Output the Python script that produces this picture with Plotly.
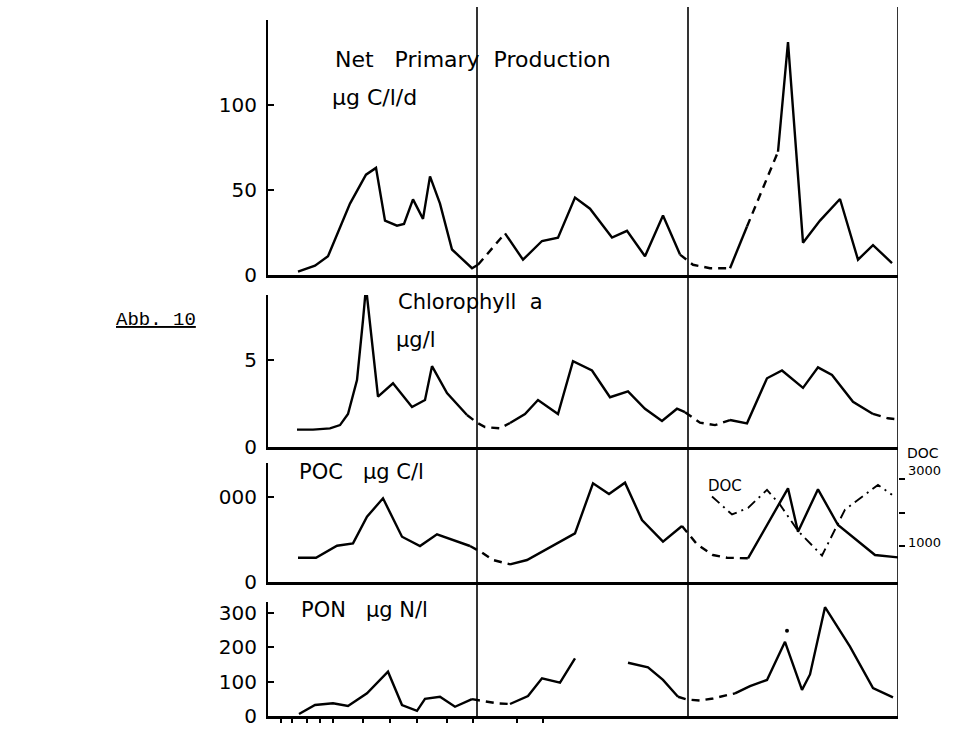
import plotly.graph_objects as go

# ---------------- data (x = station index along the three cruises) ----------------
separators_x = [20.9, 42.0, 63.0]

# Net primary production, ug C/l/d
npp_sol1_x = [3.0, 4.7, 6.0, 8.2, 9.8, 10.8, 11.7, 12.9, 13.6, 14.5, 15.5, 16.2, 17.2, 18.4, 20.4, 21.0]
npp_sol1_y = [2, 5.5, 11, 42, 59, 63, 32, 29, 30, 44.5, 33, 58, 42, 15, 4, 6]
npp_gap1_x = [21.0, 23.7]
npp_gap1_y = [6, 24.5]
npp_sol2_x = [23.7, 25.5, 27.4, 29.0, 30.7, 32.2, 34.4, 35.9, 37.7, 39.5, 41.2]
npp_sol2_y = [24.5, 9, 20, 22, 45.5, 39, 22, 26, 11, 35, 12]
npp_gap2_x = [41.2, 42.5, 44.2, 46.2]
npp_gap2_y = [12, 6, 4, 4]
npp_sol3_x = [46.2, 47.9]
npp_sol3_y = [4, 28.5]
npp_gap3_x = [47.9, 51.0]
npp_gap3_y = [28.5, 72.5]
npp_sol4_x = [51.0, 52.0, 53.5, 55.2, 57.2, 59.0, 60.5, 62.4]
npp_sol4_y = [72.5, 137, 19, 32, 44.7, 9, 17.6, 7]

# Chlorophyll a, ug/l
chl_sol1_x = [2.9, 4.5, 6.2, 7.2, 8.0, 8.9, 9.5, 9.8, 11.0, 12.5, 14.4, 15.7, 16.4, 17.9, 19.9]
chl_sol1_y = [1.0, 1.0, 1.07, 1.26, 1.9, 3.85, 7.3, 9.2, 2.9, 3.66, 2.3, 2.7, 4.65, 3.1, 1.84]
chl_gap1_x = [19.9, 20.9, 21.7, 23.2, 24.2]
chl_gap1_y = [1.84, 1.4, 1.15, 1.07, 1.38]
chl_sol2_x = [24.2, 25.7, 27.0, 29.0, 30.5, 32.4, 34.2, 36.0, 37.7, 39.4, 40.9, 41.7]
chl_sol2_y = [1.38, 1.9, 2.7, 1.9, 4.94, 4.4, 2.86, 3.2, 2.2, 1.5, 2.2, 2.0]
chl_gap2_x = [41.7, 43.2, 44.7, 46.2]
chl_gap2_y = [2.0, 1.4, 1.26, 1.55]
chl_sol3_x = [46.2, 47.9, 49.9, 51.4, 53.5, 55.0, 56.4, 58.5, 60.5]
chl_sol3_y = [1.55, 1.36, 3.95, 4.4, 3.4, 4.58, 4.14, 2.6, 1.9]
chl_gap3_x = [60.5, 62.0, 62.8]
chl_gap3_y = [1.9, 1.65, 1.6]

# POC, ug C/l
poc_sol1_x = [3.0, 4.8, 6.9, 8.5, 9.9, 11.5, 13.4, 15.2, 16.9, 20.2]
poc_sol1_y = [572, 572, 854, 910, 1537, 1969, 1066, 847, 1122, 847]
poc_gap1_x = [20.2, 21.4, 22.5, 24.2]
poc_gap1_y = [847, 690, 517, 416]
poc_sol2_x = [24.2, 25.9, 30.7, 32.5, 34.1, 35.7, 37.4, 39.5, 41.4]
poc_sol2_y = [416, 517, 1145, 2322, 2070, 2337, 1459, 949, 1318]
poc_gap2_x = [41.4, 42.9, 44.5, 45.9, 48.0]
poc_gap2_y = [1318, 887, 635, 572, 557]
poc_sol3_x = [48.0, 52.0, 53.0, 55.0, 57.0, 60.7, 63.0]
poc_sol3_y = [557, 2204, 1184, 2181, 1341, 635, 580]

# DOC (right axis)
doc_x = [44.4, 46.4, 48.0, 49.9, 51.2, 53.0, 55.4, 56.7, 57.7, 61.0, 62.4]
doc_y = [2479, 1941, 2138, 2676, 2235, 1450, 715, 1500, 2088, 2823, 2529]

# PON, ug N/l
pon_sol1_x = [3.1, 4.7, 6.5, 8.0, 9.9, 12.0, 13.4, 14.9, 15.7, 17.2, 18.7, 20.4]
pon_sol1_y = [6, 32, 37, 29, 66, 129, 32, 15, 50, 56, 27, 49]
pon_gap1_x = [20.4, 21.4, 22.9, 24.2]
pon_gap1_y = [49, 45, 37, 35]
pon_sol2_x = [24.2, 26.0, 27.4, 29.2, 30.7]
pon_sol2_y = [35, 58, 110, 97, 168]
pon_sol3_x = [36.0, 38.0, 39.5, 41.0]
pon_sol3_y = [155, 142, 105, 56]
pon_gap2_x = [41.0, 41.9, 43.2, 44.5, 45.9, 46.7]
pon_gap2_y = [56, 48, 45, 51, 61, 66]
pon_sol4_x = [46.7, 48.2, 49.9, 51.7, 53.4, 54.2, 55.7, 58.2, 60.5, 62.5]
pon_sol4_y = [66, 87, 105, 216, 76, 121, 317, 202, 81, 54]
pon_dot_x = [51.9]
pon_dot_y = [248]

bottom_ticks_x = [1.3, 2.4, 3.9, 5.2, 6.5, 9.5, 12.2, 14.9, 17.9, 20.5, 24.9, 27.5]

# ---------------- figure ----------------
# the page body margin is removed (post_script), so the figure fills the window
W, H = 953, 729
FONT = "DejaVu Sans"
LW = 2.4
DASH = "8px,6px"

def px_x(p):
    return p / W

def px_y(p):
    return 1 - p / H

fig = go.Figure()

def add(xs, ys, ax, style="solid", width=LW):
    dash = {"solid": "solid", "dash": DASH, "dashdot": "10px,5px,2px,5px"}[style]
    fig.add_trace(go.Scatter(x=xs, y=ys, mode="lines", xaxis="x" + ax[0], yaxis="y" + ax[1],
                             line=dict(color="black", width=width, dash=dash),
                             showlegend=False, hoverinfo="skip", cliponaxis=False))

add(npp_sol1_x, npp_sol1_y, ("", ""))
add(npp_gap1_x, npp_gap1_y, ("", ""), "dash")
add(npp_sol2_x, npp_sol2_y, ("", ""))
add(npp_gap2_x, npp_gap2_y, ("", ""), "dash")
add(npp_sol3_x, npp_sol3_y, ("", ""))
add(npp_gap3_x, npp_gap3_y, ("", ""), "dash")
add(npp_sol4_x, npp_sol4_y, ("", ""))

add(chl_sol1_x, chl_sol1_y, ("2", "2"))
add(chl_gap1_x, chl_gap1_y, ("2", "2"), "dash")
add(chl_sol2_x, chl_sol2_y, ("2", "2"))
add(chl_gap2_x, chl_gap2_y, ("2", "2"), "dash")
add(chl_sol3_x, chl_sol3_y, ("2", "2"))
add(chl_gap3_x, chl_gap3_y, ("2", "2"), "dash")

add(poc_sol1_x, poc_sol1_y, ("3", "3"))
add(poc_gap1_x, poc_gap1_y, ("3", "3"), "dash")
add(poc_sol2_x, poc_sol2_y, ("3", "3"))
add(poc_gap2_x, poc_gap2_y, ("3", "3"), "dash")
add(poc_sol3_x, poc_sol3_y, ("3", "3"))
add(doc_x, doc_y, ("3", "5"), "dashdot", 1.9)

add(pon_sol1_x, pon_sol1_y, ("4", "4"))
add(pon_gap1_x, pon_gap1_y, ("4", "4"), "dash")
add(pon_sol2_x, pon_sol2_y, ("4", "4"))
add(pon_sol3_x, pon_sol3_y, ("4", "4"))
add(pon_gap2_x, pon_gap2_y, ("4", "4"), "dash")
add(pon_sol4_x, pon_sol4_y, ("4", "4"))
fig.add_trace(go.Scatter(x=pon_dot_x, y=pon_dot_y, mode="markers", xaxis="x4", yaxis="y4",
                         marker=dict(color="black", size=4), showlegend=False,
                         hoverinfo="skip", cliponaxis=False))

xdom = [px_x(268), px_x(898)]
XR = [0, 63]

def xax(anchor, ticks_x=None):
    d = dict(domain=xdom, range=XR, anchor=anchor, showgrid=False, zeroline=False,
             showline=True, linecolor="black", linewidth=2.5, showticklabels=False,
             fixedrange=True, automargin=False)
    if ticks_x:
        d.update(tickmode="array", tickvals=ticks_x, ticks="outside", ticklen=4,
                 tickwidth=1.2, tickcolor="black")
    else:
        d.update(ticks="")
    return d

def yax(anchor, top, bottom, rng, tv, tt):
    return dict(domain=[px_y(bottom), px_y(top)], range=rng, anchor=anchor, showgrid=False,
                zeroline=False, showline=True, linecolor="black", linewidth=2,
                tickmode="array", tickvals=tv, ticktext=tt, ticks="inside", ticklen=6,
                tickwidth=2, tickcolor="black", ticklabelstandoff=5, automargin=False,
                tickfont=dict(family=FONT, size=20, color="black"), fixedrange=True)

fig.update_layout(
    template="none",
    width=W, height=H, margin=dict(l=0, r=0, t=0, b=0, pad=0, autoexpand=False),
    paper_bgcolor="white", plot_bgcolor="white", showlegend=False,
    xaxis=xax("y"), xaxis2=xax("y2"), xaxis3=xax("y3"), xaxis4=xax("y4", bottom_ticks_x),
    yaxis=yax("x", 20, 275, [0, 150], [0, 50, 100, 150], ["0", "50", "100", ""]),
    yaxis2=yax("x2", 295, 447, [0, 8.74], [0, 5], ["0", "5"]),
    yaxis3=yax("x3", 463, 582, [0, 2800], [0, 2000], ["0", "000"]),
    yaxis4=yax("x4", 602, 716, [0, 332], [0, 100, 200, 300], ["0", "100", "200", "300"]),
    yaxis5=dict(domain=[px_y(582), px_y(463)], range=[-75, 3478], anchor="x3", overlaying="y3",
                side="right", showgrid=False, zeroline=False, showline=False, automargin=False,
                tickmode="array", tickvals=[1000, 2000, 3000], ticktext=["", "", ""],
                ticks="outside", ticklen=6, tickwidth=2, tickcolor="black", fixedrange=True),
)

# station separators (vertical lines through all panels)
for sx in separators_x:
    fig.add_shape(type="line", xref="x", yref="paper", x0=sx, x1=sx,
                  y0=px_y(718), y1=px_y(7), line=dict(color="black", width=1.6))

def label(text, x, y, size=22, anchor="left", font=FONT):
    fig.add_annotation(text=text, xref="paper", yref="paper", x=px_x(x), y=px_y(y),
                       xanchor=anchor, yanchor="middle", showarrow=False,
                       font=dict(family=font, size=size, color="black"))

NB = "\u00a0"
label("Net" + NB * 3 + "Primary" + NB * 2 + "Production", 333, 60)
label("µg C/l/d", 330, 97)
label("Chlorophyll" + NB * 2 + "a", 396, 302, size=21)
label("µg/l", 394, 340, size=21)
label("POC" + NB * 3 + "µg C/l", 297, 472, size=21)
label("PON" + NB * 3 + "µg N/l", 299, 610, size=21)
label("DOC", 706, 486, size=15)
label("DOC", 905, 453, size=14)
label("3000", 906, 471, size=13)
label("1000", 906, 542, size=13)
label("<u>Abb. 10</u>", 114, 320, size=19, font="Liberation Mono")

fig.write_html(
    "out.html",
    config={"displayModeBar": False, "staticPlot": True},
    post_script="document.body.style.margin='0';document.body.style.overflow='hidden';",
)
